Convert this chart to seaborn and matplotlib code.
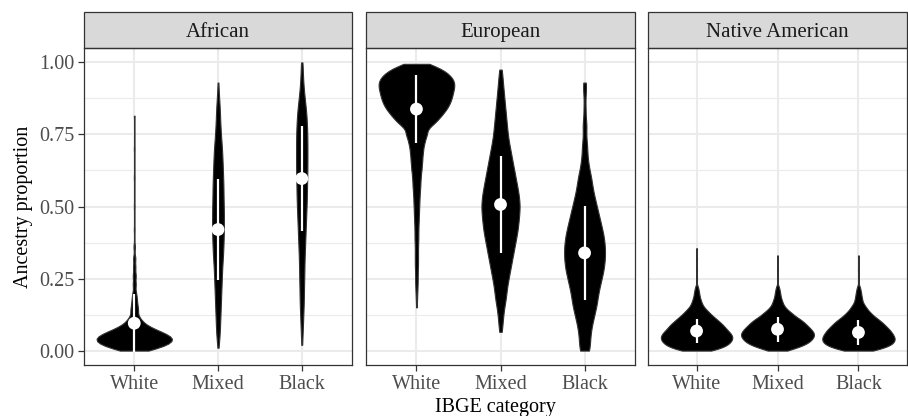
import matplotlib
matplotlib.use("Agg")
import matplotlib.pyplot as plt
from matplotlib.patches import Rectangle
import numpy as np
import pandas as pd
import seaborn as sns

# IBGE categories and ancestry components
categories = ["White", "Mixed", "Black"]
components = ["African", "European", "Native American"]

# ancestry proportion values and how many individuals sit at each
african_white_p = [0.00, 0.01, 0.02, 0.03, 0.04, 0.05, 0.06, 0.07, 0.08, 0.09, 0.10, 0.11, 0.12,
                   0.14, 0.16, 0.18, 0.20, 0.23, 0.26, 0.29, 0.32, 0.36, 0.42, 0.50, 0.60,
                   0.70, 0.815]
african_white_n = [14, 25, 32, 37, 39, 36, 30, 23, 16, 11, 8, 6, 5,
                   8, 6, 5, 4, 4, 4, 3, 3, 2, 1, 1, 1,
                   1, 1]
african_mixed_p = [0.01, 0.05, 0.09, 0.13, 0.17, 0.21, 0.25, 0.29, 0.33, 0.37, 0.41, 0.45,
                   0.49, 0.53, 0.57, 0.61, 0.65, 0.69, 0.73, 0.77, 0.81, 0.85, 0.89, 0.93]
african_mixed_n = [1, 4, 5, 6, 7, 8, 9, 10, 12, 13, 14, 14,
                   14, 13, 13, 12, 11, 10, 8, 6, 5, 4, 2, 1]
african_black_p = [0.02, 0.06, 0.10, 0.14, 0.18, 0.22, 0.26, 0.30, 0.34, 0.38, 0.42, 0.46, 0.50,
                   0.54, 0.58, 0.62, 0.66, 0.70, 0.74, 0.78, 0.82, 0.86, 0.90, 0.94, 0.98, 1.00]
african_black_n = [1, 2, 3, 4, 5, 5, 6, 6, 7, 8, 9, 10, 11,
                   12, 12, 13, 13, 13, 13, 12, 11, 8, 5, 3, 2, 1]

european_white_p = [0.15, 0.18, 0.21, 0.24, 0.27, 0.30, 0.33, 0.36, 0.39, 0.42, 0.45, 0.48,
                    0.51, 0.54, 0.57, 0.60, 0.63, 0.66, 0.69, 0.72, 0.75, 0.78, 0.80, 0.82,
                    0.84, 0.86, 0.88, 0.90, 0.92, 0.94, 0.96, 0.98, 0.995]
european_white_n = [1, 2, 3, 4, 4, 5, 5, 5, 6, 6, 7, 8,
                    9, 10, 12, 13, 16, 18, 20, 24, 33, 34, 44, 54,
                    64, 70, 74, 76, 80, 78, 68, 50, 15]
european_mixed_p = [0.065, 0.10, 0.14, 0.18, 0.22, 0.26, 0.30, 0.34, 0.38, 0.42, 0.46, 0.50,
                    0.54, 0.58, 0.62, 0.66, 0.70, 0.74, 0.78, 0.82, 0.86, 0.90, 0.94, 0.975]
european_mixed_n = [1, 2, 3, 5, 6, 8, 10, 12, 14, 16, 17, 18,
                    17, 15, 13, 11, 9, 7, 6, 5, 4, 3, 2, 1]
european_black_p = [0.00, 0.04, 0.08, 0.12, 0.16, 0.20, 0.24, 0.28, 0.32, 0.36, 0.40, 0.44,
                    0.48, 0.52, 0.56, 0.60, 0.64, 0.68, 0.72, 0.78, 0.84, 0.90, 0.93]
european_black_n = [4, 4, 5, 7, 9, 10, 12, 14, 15, 15, 14, 12,
                    10, 8, 6, 5, 3, 2, 2, 2, 1, 1, 1]

native_white_p = [0.00, 0.01, 0.02, 0.03, 0.04, 0.05, 0.06, 0.07, 0.08, 0.09, 0.10, 0.11,
                  0.12, 0.13, 0.14, 0.15, 0.16, 0.17, 0.18, 0.19, 0.20, 0.21, 0.22, 0.25,
                  0.28, 0.32, 0.355]
native_white_n = [17, 27, 33, 36, 38, 38, 36, 33, 30, 28, 24, 21,
                  17, 14, 11, 8, 6, 5, 4, 3, 3, 2, 2, 1,
                  1, 1, 1]
native_mixed_p = [0.00, 0.01, 0.02, 0.03, 0.04, 0.05, 0.06, 0.07, 0.08, 0.09, 0.10, 0.11,
                  0.12, 0.13, 0.14, 0.15, 0.16, 0.17, 0.18, 0.19, 0.20, 0.21, 0.22, 0.25,
                  0.28, 0.33]
native_mixed_n = [10, 20, 28, 33, 36, 38, 38, 36, 33, 30, 27, 23,
                  18, 15, 11, 8, 6, 5, 4, 3, 3, 2, 2, 1,
                  1, 1]
native_black_p = [0.00, 0.01, 0.02, 0.03, 0.04, 0.05, 0.06, 0.07, 0.08, 0.09, 0.10, 0.11,
                  0.12, 0.13, 0.14, 0.15, 0.16, 0.17, 0.18, 0.19, 0.20, 0.21, 0.22, 0.25,
                  0.28, 0.33]
native_black_n = [16, 27, 34, 37, 38, 37, 35, 33, 30, 27, 24, 20,
                  16, 13, 10, 8, 6, 4, 4, 3, 3, 2, 2, 1,
                  1, 1]

# mean and sd shown as white point + line
african_mean = [0.095, 0.420, 0.597]
african_sd = [0.100, 0.174, 0.181]
european_mean = [0.838, 0.507, 0.339]
european_sd = [0.118, 0.167, 0.163]
native_mean = [0.068, 0.074, 0.063]
native_sd = [0.042, 0.043, 0.042]

tables = {
    "African": [(african_white_p, african_white_n), (african_mixed_p, african_mixed_n),
                (african_black_p, african_black_n)],
    "European": [(european_white_p, european_white_n), (european_mixed_p, european_mixed_n),
                 (european_black_p, european_black_n)],
    "Native American": [(native_white_p, native_white_n), (native_mixed_p, native_mixed_n),
                        (native_black_p, native_black_n)],
}
summary = {
    "African": (african_mean, african_sd),
    "European": (european_mean, european_sd),
    "Native American": (native_mean, native_sd),
}
bw = {"African": 0.4, "European": 0.4, "Native American": 0.55}

frames = []
for comp in components:
    for cat, (vals, counts) in zip(categories, tables[comp]):
        frames.append(pd.DataFrame({
            "component": comp,
            "category": cat,
            "proportion": np.repeat(vals, counts),
        }))
df = pd.concat(frames, ignore_index=True)

sns.set_theme(style="white")
plt.rcParams["font.family"] = ["Liberation Serif", "DejaVu Serif"]

W, H = 908, 416
fig = plt.figure(figsize=(W / 100, H / 100), dpi=100)

panel_left = [84, 366, 648]
panel_w = [268, 269, 259]
top, bottom = 48, 365
strip_h = 36

for i, comp in enumerate(components):
    ax = fig.add_axes([panel_left[i] / W, 1 - bottom / H, panel_w[i] / W, (bottom - top) / H])
    sub = df[df["component"] == comp]
    sns.violinplot(data=sub, x="category", y="proportion", order=categories, color="black",
                   saturation=1, inner=None, cut=0, density_norm="area", width=0.9,
                   bw_adjust=bw[comp], linewidth=0.8, linecolor="#333333", ax=ax)
    means, sds = summary[comp]
    xs = np.arange(len(categories))
    ax.vlines(xs, np.array(means) - np.array(sds), np.array(means) + np.array(sds),
              color="white", linewidth=1.6, zorder=4)
    ax.scatter(xs, means, s=85, color="white", edgecolor="none", zorder=5)

    ax.set_xlim(-0.6, 2.6)
    ax.set_ylim(-0.05, 1.05)
    ax.set_yticks([0, 0.25, 0.5, 0.75, 1.0])
    ax.set_yticks([0.125, 0.375, 0.625, 0.875], minor=True)
    ax.grid(True, which="major", color="#EBEBEB", linewidth=1.5)
    ax.grid(True, which="minor", axis="y", color="#EBEBEB", linewidth=0.8)
    ax.set_axisbelow(True)
    for s in ax.spines.values():
        s.set_color("#333333")
        s.set_linewidth(0.9)
    ax.tick_params(axis="x", which="major", bottom=True, length=4, width=0.9, color="#333333",
                   labelsize=14.5, labelcolor="#4D4D4D", pad=3)
    if i == 0:
        ax.set_yticklabels(["0.00", "0.25", "0.50", "0.75", "1.00"])
        ax.tick_params(axis="y", which="major", left=True, length=4, width=0.9,
                       color="#333333", labelsize=14.5, labelcolor="#4D4D4D", pad=3)
        ax.set_ylabel("Ancestry proportion", fontsize=14.5, color="black", labelpad=4)
    else:
        ax.tick_params(axis="y", which="both", left=False, labelleft=False)
        ax.set_ylabel("")
    ax.tick_params(axis="y", which="minor", left=False)
    ax.set_xlabel("")

    sh = strip_h / (bottom - top)
    ax.add_patch(Rectangle((0, 1), 1, sh, transform=ax.transAxes, clip_on=False,
                           facecolor="#D9D9D9", edgecolor="#333333", linewidth=0.9))
    # strip label baseline sits 11 px above the panel top
    ax.text(0.5, 1 + 11 / (bottom - top), comp, transform=ax.transAxes,
            ha="center", va="baseline", fontsize=15, color="#1A1A1A")

fig.text((84 + 907) / 2 / W, 1 - 412 / H, "IBGE category", ha="center", va="baseline",
         fontsize=14.5, color="black")

fig.savefig("out.png", dpi=100)
